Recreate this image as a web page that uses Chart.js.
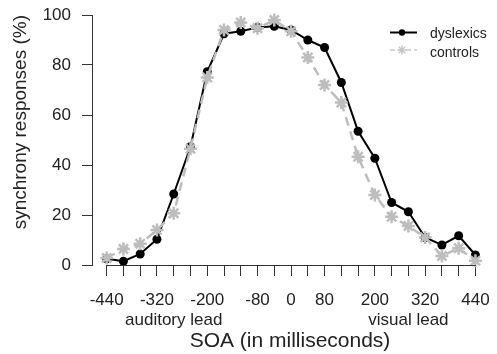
<!DOCTYPE html>
<html><head><meta charset="utf-8">
<script src="https://cdn.jsdelivr.net/npm/chart.js@4"></script>
<style>html,body{margin:0;padding:0;background:#fff}#wrap{width:497px;height:354px}</style>
</head><body><div id="wrap"><canvas id="c" width="497" height="354"></canvas></div>
<script>
const soa = [-440,-400,-360,-320,-280,-240,-200,-160,-120,-80,-40,0,40,80,120,160,200,240,280,320,360,400,440];
const dyslexics = [2.5,1.5,4.4,10.3,28.4,47.3,77.3,92.5,93.5,95,95.5,94,90,87,73,53.5,42.7,25,21.3,11,8,11.7,4];
const controls = [2.8,6.4,8.5,14,20.7,46.5,75,94,97,94.7,98,93.5,83,72,65,43.3,28,19.3,15.6,11,3.6,6.7,1.7];
const xTickLabels = [-440,-320,-200,-80,0,80,200,320,440];
const yTickValues = [0,20,40,60,80,100];
const leadLabels = ['auditory lead','visual lead'];
const leadLabelSOA = [-280, 280];
const seriesNames = ['dyslexics','controls'];
const xTitle = 'SOA (in milliseconds)';
const yTitle = 'synchrony responses (%)';

const FONT = "'Liberation Sans', Arial, sans-serif";
const AXIS = '#333';
const TXT = '#222';
const GREY = '#bdbdbd';

const extras = {
  id: 'extras',
  afterDraw(chart) {
    const ctx = chart.ctx, xs = chart.scales.x, ys = chart.scales.y;
    ctx.save();
    // x axis line spanning the tick range
    const y0 = ys.getPixelForValue(0);
    ctx.strokeStyle = AXIS; ctx.lineWidth = 1;
    ctx.beginPath();
    ctx.moveTo(Math.round(xs.getPixelForValue(soa[0])) , Math.round(y0) + 0.5);
    ctx.lineTo(Math.round(xs.getPixelForValue(soa[soa.length-1])) + 1, Math.round(y0) + 0.5);
    ctx.stroke();
    // lead labels
    ctx.fillStyle = TXT; ctx.font = '17px ' + FONT;
    ctx.textAlign = 'center'; ctx.textBaseline = 'alphabetic';
    leadLabels.forEach((t, i) => ctx.fillText(t, xs.getPixelForValue(leadLabelSOA[i]), 325));
    // legend
    const lx0 = 390, lx1 = 417, mx = 402, ly = [32.5, 50];
    ctx.setLineDash([]);
    ctx.strokeStyle = '#000'; ctx.lineWidth = 2;
    ctx.beginPath(); ctx.moveTo(lx0, ly[0]); ctx.lineTo(lx1, ly[0]); ctx.stroke();
    ctx.fillStyle = '#000'; ctx.beginPath(); ctx.arc(mx, ly[0], 3.2, 0, Math.PI*2); ctx.fill();
    ctx.strokeStyle = '#c8c8c8'; ctx.lineWidth = 1.5; ctx.setLineDash([5,3]);
    ctx.beginPath(); ctx.moveTo(lx0, ly[1]); ctx.lineTo(lx1, ly[1]); ctx.stroke();
    ctx.setLineDash([]); ctx.lineWidth = 1.5;
    const r = 4.5;
    ctx.beginPath();
    for (let k = 0; k < 4; k++) {
      const a = k * Math.PI / 4;
      ctx.moveTo(mx - r*Math.cos(a), ly[1] - r*Math.sin(a));
      ctx.lineTo(mx + r*Math.cos(a), ly[1] + r*Math.sin(a));
    }
    ctx.stroke();
    ctx.fillStyle = TXT; ctx.font = '14px ' + FONT; ctx.textAlign = 'left'; ctx.textBaseline = 'alphabetic';
    ctx.fillText(seriesNames[0], 430, 38);
    ctx.fillText(seriesNames[1], 430, 56.5);
    ctx.restore();
  }
};

new Chart(document.getElementById('c'), {
  type: 'line',
  data: {
    datasets: [
      { label: seriesNames[0], data: soa.map((x, i) => ({x, y: dyslexics[i]})),
        borderColor: '#000', backgroundColor: '#000', borderWidth: 2,
        pointStyle: 'circle', pointRadius: 4.5, pointBorderWidth: 0, pointBackgroundColor: '#000',
        tension: 0, clip: false, order: 2 },
      { label: seriesNames[1], data: soa.map((x, i) => ({x, y: controls[i]})),
        borderColor: GREY, backgroundColor: GREY, borderWidth: 2.5, borderDash: [9, 6],
        pointStyle: 'star', pointRadius: 6.5, pointBorderWidth: 2.5, pointBorderColor: GREY,
        tension: 0, clip: false, order: 1 }
    ]
  },
  options: {
    responsive: false, animation: false, devicePixelRatio: 1,
    layout: { padding: { top: 15, right: 0, left: 0, bottom: 0 } },
    plugins: { legend: { display: false }, tooltip: { enabled: false } },
    scales: {
      x: {
        type: 'linear', min: -475, max: 470,
        afterBuildTicks(s) { s.ticks = soa.map(v => ({ value: v })); },
        afterFit(s) { s.height = 89; s.paddingLeft = 0; s.paddingRight = 0; },
        ticks: {
          autoSkip: false, maxRotation: 0, padding: 14, color: TXT,
          font: { family: FONT, size: 17 },
          callback: v => xTickLabels.includes(v) ? String(v) : ''
        },
        grid: { drawOnChartArea: false, drawTicks: true, tickLength: 11, tickColor: AXIS, lineWidth: 1 },
        border: { display: false },
        title: { display: true, text: xTitle, color: TXT, font: { family: FONT, size: 21 }, padding: { top: 0, bottom: 0 } }
      },
      y: {
        type: 'linear', min: 0, max: 100,
        afterBuildTicks(s) { s.ticks = yTickValues.map(v => ({ value: v })); },
        afterFit(s) { s.width = 92; s.paddingTop = 0; s.paddingBottom = 0; },
        ticks: { padding: 11, color: TXT, font: { family: FONT, size: 17 } },
        grid: { drawOnChartArea: false, drawTicks: true, tickLength: 10, tickColor: AXIS, lineWidth: 1 },
        border: { display: true, color: AXIS, width: 1 },
        title: { display: true, text: yTitle, align: 'end', color: TXT, font: { family: FONT, size: 19 }, padding: { top: 9, bottom: 0 } }
      }
    }
  },
  plugins: [extras]
});
</script>
</body></html>
